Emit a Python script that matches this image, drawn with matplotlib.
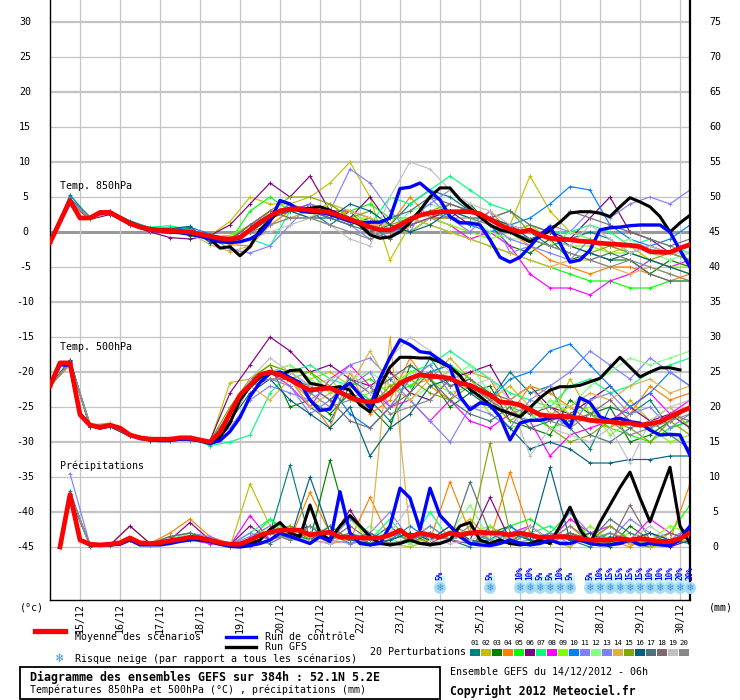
import numpy as np
import matplotlib
matplotlib.use("Agg")
import matplotlib.pyplot as plt
from matplotlib.lines import Line2D
from matplotlib.patches import Rectangle

plt.rcParams['font.family'] = ['DejaVu Sans Mono', 'DejaVu Sans']

# ---- data -------------------------------------------------------------
# forecast hours from 14/12/2012 06h, 6-hourly for mean / control / GFS
h6 = np.arange(0, 385, 6)
h12 = np.arange(0, 385, 12)

days = ['15/12', '16/12', '17/12', '18/12', '19/12', '20/12', '21/12', '22/12',
        '23/12', '24/12', '25/12', '26/12', '27/12', '28/12', '29/12', '30/12']
day_hours = [18 + 24 * k for k in range(16)]

t850_mean = [-1.5, 1.5, 4.5, 2.0, 2.0, 2.8, 2.8, 2.0, 1.2, 0.7, 0.4, 0.2, 0.2, 0.1, 0.0, -0.3,
             -0.6, -0.9, -1.0, -0.8, 0.3, 1.4, 2.3, 3.0, 3.3, 3.3, 3.1, 3.0, 2.8, 2.3, 1.8, 1.3,
             0.7, 0.3, 0.3, 1.0, 1.8, 2.4, 2.7, 2.9, 2.9, 2.9, 2.9, 2.6, 1.8, 1.0, 0.4, 0.0,
             0.3, -0.4, -0.9, -1.0, -1.1, -1.3, -1.4, -1.6, -1.7, -1.8, -1.9, -2.1, -2.8, -2.9,
             -2.9, -2.3, -1.8]
t850_ctrl = [-1.5, 1.5, 4.3, 2.0, 2.0, 2.7, 2.8, 2.0, 1.2, 0.7, 0.3, 0.1, 0.0, -0.1, -0.3, -0.6,
             -1.0, -1.4, -1.5, -1.4, -1.0, -0.2, 1.5, 4.5, 4.0, 3.0, 2.8, 2.8, 2.5, 2.0, 1.5, 1.3,
             1.4, 1.4, 2.0, 6.2, 6.4, 7.0, 5.8, 4.6, 2.2, 1.3, 1.3, 1.0, -1.1, -3.6, -4.3, -3.6,
             -2.1, -0.4, 0.7, -1.6, -4.3, -4.0, -2.6, 0.3, 0.6, 0.7, 0.9, 1.0, 1.0, 1.0, 0.0,
             -2.6, -5.0]
t850_gfs = [-1.5, 1.5, 4.5, 2.0, 2.0, 2.8, 2.8, 2.0, 1.3, 0.7, 0.4, 0.2, 0.2, 0.0, -0.3, -0.5,
            -1.0, -2.3, -2.1, -3.4, -2.1, 0.3, 1.7, 3.1, 3.2, 3.3, 3.4, 3.6, 3.1, 2.4, 1.7, 1.0,
            -0.4, -0.9, -0.7, 0.0, 1.4, 3.1, 5.0, 6.3, 6.3, 4.6, 3.4, 2.2, 1.0, 0.3, 0.0, -0.7,
            -1.4, -0.7, 0.3, 1.4, 2.7, 2.9, 2.9, 2.7, 2.2, 3.6, 4.9, 4.3, 3.6, 2.2, 0.0, 1.3, 2.4]

t500_mean = [-22, -18.7, -18.7, -26.1, -27.6, -27.9, -27.6, -28, -29, -29.4, -29.6, -29.6, -29.6,
             -29.4, -29.4, -29.7, -30, -28.6, -25.9, -23.3, -21.9, -20.4, -20.0, -20.4, -21.1,
             -21.9, -22.6, -22.4, -22.3, -22.9, -23.6, -24.1, -24.3, -24.0, -23.0, -21.6, -20.9,
             -20.4, -20.6, -20.7, -20.9, -21.6, -21.9, -22.6, -23.3, -24.3, -24.4, -24.7, -25.4,
             -26.1, -26.3, -26.3, -26.4, -26.6, -26.9, -27.0, -27.1, -27.3, -27.3, -27.6, -27.4,
             -27.1, -26.4, -25.7, -25.1]
t500_ctrl = [-22, -19, -19, -26, -27.6, -28, -27.7, -28, -29, -29.5, -29.7, -29.8, -29.8, -29.6,
             -29.6, -29.8, -30.2, -29.8, -28.5, -26.5, -23.5, -21.5, -20.2, -20.0, -20.8, -21.5,
             -24.0, -25.5, -25.3, -22.5, -21.6, -23.3, -25.1, -20.9, -17.9, -15.4, -16.1, -17.1,
             -17.3, -18.3, -19.3, -23.5, -25.4, -24.4, -24.7, -26.4, -29.7, -27.3, -26.9, -26.9,
             -26.6, -26.4, -27.9, -23.7, -24.4, -26.4, -26.9, -26.6, -27.1, -27.3, -28.3, -29.0,
             -28.9, -29.0, -31.9]
t500_gfs = [-22, -18.7, -18.7, -26, -27.6, -28, -27.7, -28, -29, -29.4, -29.6, -29.7, -29.7, -29.5,
            -29.5, -29.8, -30.2, -29.3, -27.3, -24, -22.1, -20.7, -20.1, -20.5, -19.8, -19.7,
            -21.6, -21.9, -22.3, -22.1, -22.6, -24.7, -25.7, -22.1, -19.3, -17.9, -17.9, -18.0,
            -18.0, -18.6, -19.3, -20.5, -22.5, -23.5, -24.7, -25.4, -25.9, -26.4, -25.1, -23.7,
            -22.6, -22.1, -22.1, -21.9, -21.4, -20.9, -19.4, -17.9, -19.3, -20.7, -20.0, -19.4,
            -19.4, -19.7, None]

rain_mean = [None, 0, 7.5, 1.0, 0.4, 0.3, 0.4, 0.6, 1.3, 0.6, 0.5, 0.6, 0.9, 1.1, 1.4, 1.3, 1.0,
             0.6, 0.4, 0.4, 1.0, 1.7, 2.1, 2.4, 2.4, 2.4, 1.7, 2.0, 2.1, 1.4, 1.4, 1.3, 1.3, 1.3,
             1.7, 2.4, 1.4, 2.0, 1.7, 1.4, 2.0, 1.7, 2.0, 2.1, 2.0, 2.0, 1.7, 2.0, 1.7, 1.4, 1.4,
             1.5, 1.4, 1.2, 1.0, 1.0, 1.0, 1.2, 1.0, 1.2, 1.0, 0.8, 0.8, 1.2, 2.0]
rain_ctrl = [None, 0, 7.5, 1, 0.3, 0.3, 0.3, 0.4, 1.0, 0.3, 0.3, 0.3, 0.5, 0.8, 1.0, 1.2, 0.8,
             0.4, 0.1, 0.0, 0.2, 0.5, 1.0, 2.0, 1.5, 1.0, 0.5, 1.5, 0.8, 7.9, 2.0, 0.5, 0.3, 0.5,
             3.0, 8.4, 7.0, 2.5, 8.4, 4.5, 3.0, 1.5, 0.5, 0.3, 0.2, 0.5, 1.0, 0.5, 0.3, 0.5, 1.0,
             0.5, 0.5, 1.0, 0.5, 0.3, 0.3, 0.5, 1.0, 0.3, 0.5, 0.3, 0.2, 1.0, 3.0]
rain_gfs = [None, 0, 7.5, 1, 0.3, 0.3, 0.4, 0.5, 1.2, 0.5, 0.4, 0.5, 0.8, 1.0, 1.2, 1.0, 0.8,
            0.5, 0.2, 0.1, 0.5, 1.0, 2.5, 3.5, 2.0, 1.5, 6.0, 2.0, 1.0, 3.0, 4.5, 3.0, 1.5, 0.5,
            0.3, 0.5, 1.0, 0.5, 0.3, 0.5, 1.0, 3.0, 3.5, 1.0, 0.5, 1.0, 0.5, 0.3, 0.5, 1.0, 0.5,
            3.0, 5.7, 2.5, 0.5, 3.5, 6.0, 8.5, 10.7, 7.0, 3.6, 7.5, 11.4, 3.0, 0.5]

pert_colors = ['#008080', '#c0c000', '#008000', '#ff8000', '#00ff00', '#800080', '#00ff80',
               '#ff00ff', '#80ff00', '#0080ff', '#8080ff', '#80ff80', '#8080f8', '#e0b040',
               '#80a800', '#006080', '#507080', '#806870', '#c0c0c0', '#888888']

t850_pert = [
    [-1.5, 5.3, 2.0, 3.0, 1.6, 0.6, 0.5, 0.5, -1.5, -1.5, 0, 2, 4, 3, 1, 3, 0, 1, 4, 6, 5, 3, 2, 1, 0, -2, -1, 0, -1, -3, -2, -3, -4],
    [-1.5, 4.6, 2.0, 2.6, 1.0, 0.2, 0.0, -0.5, -0.5, 1.5, 5, 4, 4, 5, 7, 10, 5, -4, 1, 2, 3, 3, 2, 1, 8, 3, 0, -1, -3, -2, -4, -5, -6],
    [-1.5, 4.3, 2.0, 2.8, 1.3, 0.6, 0.4, -0.5, -1.0, -1.5, 0, 2, 3, 3, 2, 1, 2, 0, 1, 2, 2, 4, 1, -2, -3, -1, -4, -3, -4, -4, -6, -4, -5],
    [-1.5, 4.4, 1.8, 2.9, 1.1, 0.5, 0.6, 0.2, -0.8, -1.8, -2, 1, 3, 3, 2, 3, 1, 1, 5, 2, 2, 1, 3, 0, -2, -4, -5, -6, -5, -5, -6, -7, -6],
    [-1.5, 4.4, 2.0, 2.8, 1.0, 0.6, 0.3, -0.2, -0.5, -1.3, 3, 5, 3, 4, 3, 3, 4, 2, 2, 1, 0, -1, -2, -3, -4, -5, -6, -7, -7, -8, -8, -7, -7],
    [-1.5, 4.2, 1.8, 2.5, 1.0, 0.0, -0.8, -1.0, -0.5, 1.0, 4, 7, 5, 8, 3, 2, 5, 1, 0, 2, 3, 1, 2, 0, 1, 0, -1, 2, 5, 0, -1, -3, -2],
    [-1.5, 4.6, 2.1, 3.0, 1.4, 0.7, 0.9, 0.3, -0.8, -1.5, -1, -2, 3, 4, 3, 2, 1, 5, 4, 6, 8, 6, 4, 3, 1, 0, 0, 1, 0, -2, -1, -2, -3],
    [-1.5, 4.4, 2.0, 2.7, 1.2, 0.3, 0.3, 0.0, -0.8, -1.2, 1, 3, 3, 4, 3, 3, 2, 0, 1, 2, 1, -1, 0, -2, -6, -8, -8, -9, -7, -6, -4, -5, -4],
    [-1.5, 4.5, 2.0, 2.8, 1.2, 0.5, 0.3, 0.3, -0.6, -0.5, 1, 2, 3, 2, 4, 2, 2, 1, 0, 2, 1, 0, -1, 0, 1, -1, -2, -2, -3, -3, -4, -5, -5],
    [-1.5, 4.8, 2.2, 2.9, 1.4, 0.6, 0.3, 0.7, -0.3, -1.0, 0, 2, 3, 3, 3, 2, 1, -1, 2, 3, 2, 1, 0, 1, 2, 4, 6.5, 6, 1, -1, -2, -1, 1],
    [-1.5, 4.5, 2.0, 2.8, 1.1, 0.3, 0.3, 0.0, -0.6, -2.5, -3, -2, 1, 4, 3, 9, 7, 3, 0, 5, 2, 0, 3, -3, -2, 1, 0, 3, 2, 4, 5, 4, 6],
    [-1.5, 4.4, 2.0, 2.9, 1.3, 0.4, 0.4, 0.1, -0.9, -1.0, 0, 3, 2, 3, 4, 3, 1, 0, 3, 4, 3, 2, 0, -1, -1, -2, 0, -1, -2, -1, -3, -4, -3],
    [-1.5, 4.6, 2.0, 2.7, 1.2, 0.3, 0.4, 0.2, -0.5, -1.0, 1, 2, 4, 3, 2, 1, -1, 0, 2, 4, 6, 3, 1, -1, -2, -3, -4, -1, -2, -3, -2, -3, -4],
    [-1.5, 4.3, 1.9, 2.7, 1.1, 0.2, 0.2, -0.2, -1.8, -2.8, -2, 1, 2, 3, 4, 3, 2, 0, 2, 1, 0, -1, -2, -3, -4, -5, -4, -4, -5, -6, -5, -6, -7],
    [-1.5, 4.5, 2.1, 2.8, 1.2, 0.4, 0.1, 0.0, -0.8, -1.0, 1, 3, 5, 5, 4, 2, 3, 1, 2, 3, 4, 3, 2, 3, 0, -1, -2, -3, -2, -3, -4, -3, -4],
    [-1.5, 4.4, 2.1, 3.0, 1.5, 0.5, 0.5, 0.8, -1.5, -1.0, 0, 2, 3, 2, 2, 4, 3, 1, 0, 1, 3, 2, 2, 1, -1, 0, -2, -3, -4, -3, -4, -5, -6],
    [-1.5, 4.4, 2.0, 2.8, 1.2, 0.4, 0.3, 0.1, -0.8, -1.0, 0, 2, 3, 3, 2, 1, 0, 2, 3, 5, 4, 3, 2, 0, -1, -2, -3, -4, -3, -4, -6, -7, -7],
    [-1.5, 4.5, 2.0, 2.8, 1.1, 0.4, 0.2, 0.0, -0.6, -1.2, 1, 3, 2, 2, 3, 2, 0, -1, 1, 2, 4, 3, 2, 3, 1, 0, 3, 2, 1, 0, -1, -2, -1],
    [-1.5, 4.5, 2.0, 2.8, 1.2, 0.4, 0.3, 0.0, -0.6, -1.0, -1, 0, 1, 2, 1, -1, -2, 5, 10, 9, 6, 4, 3, 1, 0, -1, -2, 1, -1, -3, -2, -3, -3],
    [-1.5, 4.5, 2.0, 2.8, 1.2, 0.4, 0.2, 0.0, -0.6, -1.0, 0, 1, 2, 2, 1, 0, -1, 0, 2, 3, 2, 2, 1, 0, -1, -2, -3, -4, -5, -4, -5, -6, -7],
]

t500_pert = [
    [-22, -18.3, -27.8, -27.5, -29.0, -29.5, -29.8, -29.3, -30.5, -27, -22, -20, -21, -25, -27, -22, -24, -27, -23, -18, -22, -21, -24, -20, -23, -22, -28, -31, -25, -26, -24, -28, -27],
    [-22, -18.5, -27.5, -27.6, -29.2, -29.8, -29.6, -29.8, -30, -21.5, -21, -20, -19, -21, -20, -22, -24, -20, -22, -21, -18, -21, -24, -22, -25, -27, -21, -26, -28, -24, -27, -25, -28],
    [-22, -18.8, -27.4, -27.7, -29, -29.4, -29.6, -29.5, -29.8, -26, -21, -19, -25, -24, -26, -23, -25, -28, -19, -21, -25, -23, -22, -27, -28, -29, -24, -26, -25, -30, -29, -27, -25],
    [-22, -19, -27.6, -27.3, -28.8, -29.6, -29.4, -29.7, -30.2, -26, -22, -21, -21, -24, -28, -20, -26, -24, -18, -22, -24, -20, -21, -26, -22, -23, -25, -27, -28, -26, -22, -24, -23],
    [-22, -18.6, -27.5, -27.6, -29, -29.7, -29.5, -29.6, -30, -27, -22, -20, -21, -20, -23, -22, -21, -23, -22, -20, -19, -21, -23, -25, -26, -28, -27, -26, -28, -29, -30, -28, -27],
    [-22, -18.4, -27.9, -27.8, -29.2, -29.8, -29.8, -29.6, -29.8, -23, -19, -15, -17, -20, -19, -21, -22, -20, -23, -24, -21, -20, -19, -24, -22, -25, -26, -24, -22, -25, -27, -26, -28],
    [-22, -18.7, -27.7, -27.5, -29.1, -29.5, -29.9, -29.6, -30.5, -30, -29, -23, -20, -19, -21, -22, -24, -23, -20, -19, -17, -19, -21, -23, -24, -25, -22, -21, -23, -22, -20, -19, -18],
    [-22, -18.8, -27.6, -27.6, -29, -29.6, -29.7, -29.5, -30, -27, -21, -20, -22, -25, -21, -19, -22, -25, -24, -27, -24, -27, -28, -26, -27, -32, -29, -28, -27, -25, -23, -26, -24],
    [-22, -18.6, -27.6, -27.7, -29, -29.5, -29.6, -29.4, -30.2, -26, -21, -19, -20, -22, -21, -24, -23, -22, -20, -21, -23, -22, -26, -28, -27, -24, -26, -25, -29, -27, -28, -30, -29],
    [-22, -18.5, -27.6, -27.6, -29.1, -29.7, -29.5, -29.7, -30, -26, -22, -20, -21, -23, -22, -26, -28, -25, -21, -20, -19, -22, -24, -21, -20, -17, -16, -19, -22, -25, -23, -20, -22],
    [-22, -18.6, -27.5, -27.6, -29, -29.5, -29.6, -29.8, -30, -28, -24, -22, -23, -24, -22, -19, -18, -21, -24, -27, -30, -25, -26, -28, -24, -22, -20, -17, -19, -21, -18, -20, -22],
    [-22, -18.7, -27.6, -27.5, -29, -29.6, -29.6, -29.5, -30, -26, -21, -20, -19, -21, -23, -21, -20, -22, -24, -22, -21, -19, -23, -25, -27, -24, -25, -22, -20, -18, -19, -18, -17],
    [-22, -18.5, -27.7, -27.7, -29.1, -29.6, -29.6, -29.5, -30, -26, -22, -21, -22, -26, -24, -22, -20, -25, -21, -19, -23, -25, -24, -26, -27, -26, -28, -24, -23, -26, -25, -28, -26],
    [-22, -18.8, -27.5, -27.6, -29, -29.7, -29.6, -29.6, -30, -27, -22, -24, -21, -25, -23, -22, -17, -22, -24, -21, -20, -22, -25, -24, -22, -26, -25, -23, -24, -22, -21, -23, -22],
    [-22, -18.7, -27.6, -27.6, -29, -29.4, -29.5, -29.5, -29.9, -25, -21, -19, -20, -20, -22, -24, -25, -22, -21, -23, -24, -22, -24, -27, -25, -28, -30, -29, -27, -28, -30, -27, -29],
    [-22, -18.3, -27.9, -27.8, -29.2, -29.8, -29.7, -29.7, -30.3, -27, -23, -21, -24, -26, -28, -25, -32, -28, -26, -22, -21, -23, -25, -28, -31, -30, -31, -33, -33, -32.5, -32.5, -32, -32],
    [-22, -18.6, -27.6, -27.6, -29, -29.6, -29.6, -29.6, -30, -26, -22, -20, -21, -22, -24, -21, -23, -21, -19, -21, -24, -26, -27, -25, -28, -27, -26, -29, -30, -28, -27, -29, -31],
    [-22, -18.7, -27.6, -27.7, -29, -29.5, -29.6, -29.6, -30, -26, -21, -20, -20, -22, -24, -27, -28, -25, -23, -20, -22, -21, -23, -24, -26, -25, -27, -26, -24, -27, -28, -26, -27],
    [-22, -18.6, -27.6, -27.6, -29, -29.6, -29.6, -29.5, -30, -26, -21, -18, -20, -22, -21, -20, -23, -18, -15, -17, -20, -22, -21, -24, -32, -28, -29, -30, -28, -33, -27, -25, -24],
    [-22, -18.6, -27.6, -27.6, -29, -29.6, -29.6, -29.6, -30, -26, -22, -21, -21, -23, -25, -24, -22, -26, -25, -24, -21, -22, -24, -26, -25, -27, -28, -26, -27, -29, -28, -27, -26],
]

rain_pert = [
    [None, 8, 0, 0.3, 1, 0.3, 1.5, 2, 1, 0, 1, 2, 11.7, 1, 2, 0.5, 1, 3, 0.5, 2, 1, 0, 3, 1, 0.5, 2, 1, 0, 1.5, 0.5, 0, 1, 2],
    [None, 7, 0.5, 0.3, 3, 0.5, 1, 1.5, 0.5, 0, 9, 3, 2, 1, 0.5, 2, 1, 0.5, 0, 1, 2, 4, 1, 0.5, 3, 1, 0, 2, 0.5, 1, 0, 0.5, 1],
    [None, 7.5, 0.3, 0.2, 1, 0.5, 1, 1.5, 1, 0.2, 1, 2, 3, 1, 12.4, 2, 0.5, 1, 2, 0.5, 1, 2, 2, 3, 1, 0.5, 2, 1, 0, 3, 1, 0.5, 1],
    [None, 7.5, 0.3, 0.5, 1, 0.5, 2, 4, 1.5, 0.5, 0, 2, 1, 7.8, 2, 1, 7.1, 1, 2, 1, 9.3, 2, 1, 10.7, 2, 1, 3, 0.5, 1, 0, 2, 1, 9],
    [None, 7, 0.2, 0.3, 1, 0.5, 1, 1, 0.5, 0, 1, 4, 2, 1, 3, 1, 0.5, 2, 1, 3, 1, 2, 1, 3, 4, 2, 5, 1, 2, 1, 0.5, 2, 6],
    [None, 7.5, 0.3, 0.3, 3, 0.5, 1, 3.5, 1, 0.3, 3, 1, 2, 3, 1, 5.3, 1, 2, 1, 0.5, 2, 1, 7.1, 1, 2, 1, 0.5, 1, 2, 0.5, 1, 0, 1],
    [None, 7.5, 0.3, 0.3, 1, 0.5, 1, 2, 1, 0.3, 2, 4, 1, 3, 2, 1, 1, 4, 0.5, 5, 1, 2, 1, 0.5, 2, 3, 1, 2, 1, 0.5, 1, 1, 2],
    [None, 7, 0.3, 0.3, 1, 0.5, 1, 1, 0.5, 0.2, 4.5, 1, 2, 1, 0.5, 1, 2, 0.5, 1, 2, 1, 0.5, 1, 2, 3, 1, 4, 2, 3, 1, 4, 2, 1],
    [None, 7.5, 0.3, 0.3, 1, 0.5, 1, 1.5, 1, 0.3, 1, 3, 2, 1, 2, 4, 1, 2, 1, 3, 1, 2, 3, 1, 2, 1, 0.5, 3, 1, 2, 1, 3, 2],
    [None, 7.5, 0.3, 0.3, 1, 0.5, 1, 1.5, 1, 0.3, 1, 2, 1, 3, 1, 2, 0.5, 1, 3, 1, 2, 0.5, 1, 3, 1, 2, 1, 0.5, 2, 1, 0.5, 1, 2],
    [None, 10.5, 0.3, 0.3, 1, 0.5, 1, 2, 1.5, 0.3, 2, 1, 3, 2, 1, 4, 2, 5, 1, 2, 1, 0.5, 2, 1, 3, 1, 5, 2, 1, 4, 2, 1, 3],
    [None, 7.5, 0.3, 0.3, 1, 0.5, 1, 2, 1, 0.3, 1, 2, 1, 1.5, 3, 1, 3, 1, 0.5, 1, 2, 6, 1, 2, 1, 0.5, 2, 1, 0.5, 2, 1, 1, 2],
    [None, 7.5, 0.3, 0.3, 1, 0.5, 1, 1.5, 1, 0.3, 1.5, 3, 1, 2, 1, 0.5, 1, 2, 1, 3, 1, 2, 1, 0.5, 1, 2, 0.5, 1, 3, 1, 2, 0.5, 2],
    [None, 7.5, 0.3, 0.3, 1, 0.5, 1.5, 2, 1, 0.3, 1, 2, 1, 2, 0.5, 1, 1, 30, 2, 1, 2, 1, 0.5, 1, 2, 1, 0.5, 2, 1, 0.5, 1, 0.5, 1],
    [None, 7.5, 0.3, 0.3, 1, 0.5, 1, 1.5, 1, 0.3, 1, 2, 3, 1, 2, 1, 0.5, 2, 1, 1, 3, 2, 14.8, 2, 1, 0.5, 2, 1, 3, 1, 0.5, 2, 1],
    [None, 7.5, 0.3, 0.3, 1, 0.5, 1, 1.5, 1, 0.3, 1, 2, 1, 10, 2, 1, 0.5, 1, 2, 1, 3, 1, 0.5, 2, 1, 11.4, 1, 2, 0.5, 1, 2, 1, 0.5],
    [None, 7.5, 0.3, 0.3, 1, 0.5, 1.5, 2, 1, 0.3, 1, 0.5, 2, 1, 3, 1, 2, 0.5, 1, 2, 1, 9.3, 2, 0.5, 3, 1, 2, 1, 4, 2, 1, 0.5, 3],
    [None, 7.5, 0.3, 0.3, 1, 0.5, 1, 1.5, 1, 0.3, 1, 2, 1, 2, 1, 3, 1, 0.5, 1, 2, 1, 0.5, 2, 1, 0.5, 1, 2, 1, 0.5, 6, 1, 2, 1],
    [None, 7.5, 0.3, 0.3, 1, 0.5, 1, 1.5, 1, 0.3, 1, 2, 1, 1, 0.5, 2, 1, 2, 6, 1, 0.5, 1, 2, 1, 3, 1, 0.5, 1, 2, 1, 3, 1, 2],
    [None, 7.5, 0.3, 0.3, 1, 0.5, 1, 1.5, 1, 0.3, 1, 2, 1, 3, 1, 2, 1, 0.5, 1, 2, 1, 3, 1, 0.5, 2, 1, 3, 1, 2, 1, 0.5, 1, 2],
]

snow_hours = [234, 264, 282, 288, 294, 300, 306, 312, 324, 330, 336, 342, 348, 354, 360,
              366, 372, 378, 384]
snow_pct = [5, 5, 10, 10, 5, 5, 10, 5, 5, 10, 15, 15, 15, 15, 10, 10, 10, 20, 20]

left_ticks = list(range(30, -50, -5))
right_ticks = list(range(75, -5, -5))
RAIN_BASE = -45   # 0 mm sits on the -45 line

# ---- figure -----------------------------------------------------------
W, H = 740, 700
fig = plt.figure(figsize=(W / 100, H / 100), dpi=100)
fig.patch.set_facecolor('white')


def fx(px):
    return px / W


def fy(py):
    return 1 - py / H


def yv(py):
    # pixel row -> left axis value (7 px per degree, 30 at row 22)
    return 30 - (py - 22) / 7.0


ax = fig.add_axes([50 / W, 100 / H, 640 / W, 600 / H])
ax.set_xlim(0, 384)
ax.set_ylim(yv(600), yv(0))
ax.set_xticks([])
ax.set_yticks([])
ax.spines['top'].set_visible(False)
for s in ['left', 'bottom']:
    ax.spines[s].set_linewidth(1.0)
ax.spines['right'].set_linewidth(1.6)

# grid
for v in left_ticks:
    if v == 0:
        ax.axhline(v, color='#999999', lw=2.2, zorder=0.5)
    else:
        ax.axhline(v, color='#c4c4c4', lw=1.6 if v % 10 == 0 else 0.9, zorder=0.5)
for h in day_hours:
    ax.axvline(h, color='#c4c4c4', lw=0.9, zorder=0.5)

# perturbations
for k in range(20):
    c = pert_colors[k]
    kw = dict(color=c, lw=0.85, marker='+', ms=3, mew=0.7, zorder=2)
    ax.plot(h12, t850_pert[k], **kw)
    ax.plot(h12, t500_pert[k], **kw)
    ax.plot(h12, RAIN_BASE + np.array(rain_pert[k], dtype=float), **kw)

# GFS, control and ensemble mean
for series, col, lw, z in [((t850_gfs, t500_gfs, rain_gfs), 'black', 2.2, 3),
                           ((t850_ctrl, t500_ctrl, rain_ctrl), '#0000ff', 2.4, 4),
                           ((t850_mean, t500_mean, rain_mean), '#ff0000', 3.4, 5)]:
    ax.plot(h6, np.array(series[0], dtype=float), color=col, lw=lw, zorder=z)
    ax.plot(h6, np.array(series[1], dtype=float), color=col, lw=lw, zorder=z)
    ax.plot(h6, RAIN_BASE + np.array(series[2], dtype=float), color=col, lw=lw, zorder=z)

# panel titles
ax.text(6, yv(186), 'Temp. 850hPa', fontsize=7.2, va='center', ha='left', zorder=6)
ax.text(6, yv(347), 'Temp. 500hPa', fontsize=7.2, va='center', ha='left', zorder=6)
ax.text(6, yv(466), 'Précipitations', fontsize=7.2, va='center', ha='left', zorder=6)

# axis labels
tr_l = ax.get_yaxis_transform()
for lv, rv in zip(left_ticks, right_ticks):
    ax.text(-25 / 640, lv, str(lv), transform=tr_l, ha='center', va='center', fontsize=7.2)
    ax.text(1 + 25 / 640, lv, str(rv), transform=tr_l, ha='center', va='center', fontsize=7.2)
for h, d in zip(day_hours, days):
    ax.text(h, yv(603), d, rotation=90, ha='center', va='top', fontsize=7.2, clip_on=False)
fig.text(fx(20), fy(607), '(°c)', fontsize=7.2, va='center', ha='left')
fig.text(fx(709), fy(607), '(mm)', fontsize=7.2, va='center', ha='left')

# snow risk row
ax.bar(snow_hours, yv(576) - yv(584), bottom=yv(584), width=6, color='#ccf6ff', zorder=1)
ax.scatter(snow_hours, [yv(588)] * len(snow_hours), s=75, color='#a8dcf5', zorder=6,
           edgecolors='none', clip_on=False)
for h, p in zip(snow_hours, snow_pct):
    ax.text(h, yv(588), '❄', color='#3d8fd6', fontsize=8, ha='center', va='center', zorder=7,
            clip_on=False)
    ax.text(h, yv(580), f'{p}%', rotation=90, ha='center', va='bottom', color='#0000ff',
            fontsize=5.5, fontweight='bold', zorder=7)

# legend
fig.add_artist(Line2D([fx(35), fx(65)], [fy(631), fy(631)], color='#ff0000', lw=3.8))
fig.text(fx(75), fy(637), 'Moyenne des scénarios', fontsize=7.2, va='center')
fig.add_artist(Line2D([fx(226), fx(256)], [fy(637), fy(637)], color='#0000ff', lw=2.4))
fig.text(fx(265), fy(637), 'Run de contrôle', fontsize=7.2, va='center')
fig.add_artist(Line2D([fx(226), fx(256)], [fy(647), fy(647)], color='black', lw=2.4))
fig.text(fx(265), fy(647), 'Run GFS', fontsize=7.2, va='center')
fig.text(fx(60), fy(658), '❄', color='#3d8fd6', fontsize=9, ha='center', va='center')
fig.text(fx(75), fy(659), 'Risque neige (par rapport a tous les scénarios)', fontsize=7.2,
         va='center')
fig.text(fx(370), fy(652), '20 Perturbations', fontsize=7.2, va='center')
for k, c in enumerate(pert_colors):
    x0 = 470 + 11 * k
    fig.add_artist(Rectangle((fx(x0), fy(656)), 10 / W, 7 / H, color=c, lw=0))
    fig.text(fx(x0 + 5), fy(643), f'{k + 1:02d}', fontsize=5.3, ha='center', va='center')

# bottom boxes
fig.add_artist(Rectangle((fx(20), fy(699)), 420 / W, 32 / H, fill=False, lw=1.3,
                         edgecolor='black'))
fig.text(fx(30), fy(677), 'Diagramme des ensembles GEFS sur 384h : 52.1N 5.2E', fontsize=8.4,
         fontweight='bold', va='center')
fig.text(fx(30), fy(690), 'Températures 850hPa et 500hPa (°C) , précipitations (mm)',
         fontsize=7.1, va='center')
fig.text(fx(450), fy(672), 'Ensemble GEFS du 14/12/2012 - 06h', fontsize=7.2, va='center')
fig.text(fx(450), fy(691), 'Copyright 2012 Meteociel.fr', fontsize=8.3, fontweight='bold',
         va='center')

fig.savefig('out.png', dpi=100)
